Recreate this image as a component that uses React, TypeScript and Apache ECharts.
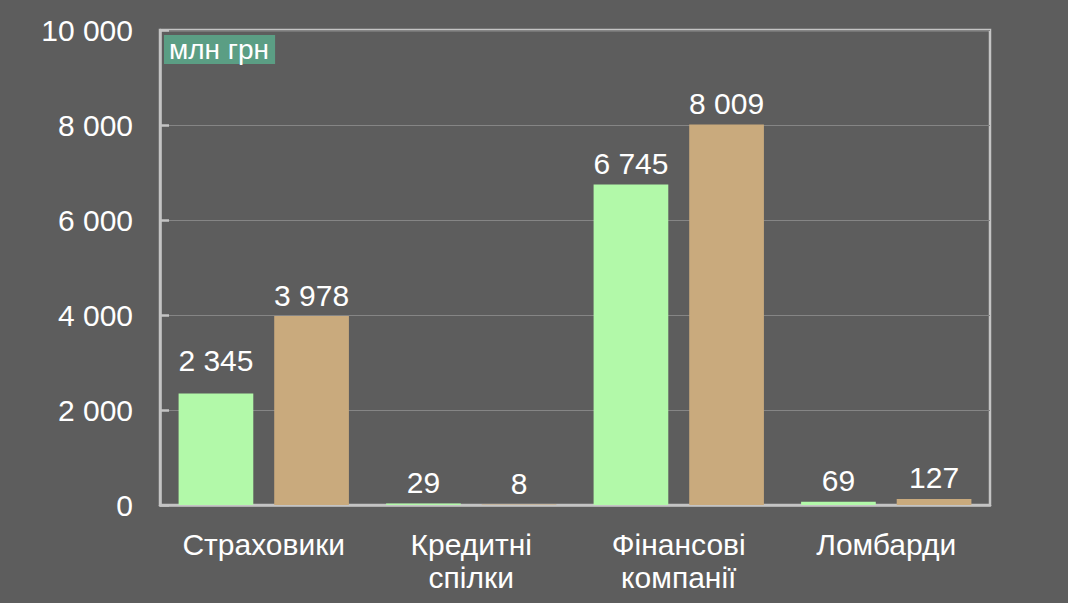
import React, { useEffect, useRef } from "react";
import * as echarts from "echarts";

const categories = ["Страховики", "Кредитні\nспілки", "Фінансові\nкомпанії", "Ломбарди"];
const seriesA = [2345, 29, 6745, 69];
const seriesB = [3978, 8, 8009, 127];
const yTicks = { min: 0, max: 10000, interval: 2000 };
const unitLabel = "млн грн";

const fmt = (v: number) => String(v).replace(/\B(?=(\d{3})+(?!\d))/g, " ");

export default function App() {
  const ref = useRef<HTMLDivElement>(null);
  useEffect(() => {
    if (!ref.current) return;
    const chart = echarts.init(ref.current, null, { renderer: "svg" });
    const font = "Liberation Sans, Arial, sans-serif";
    const labelStyle = {
      show: true,
      position: "top" as const,
      distance: 6,
      color: "#ffffff",
      fontSize: 30,
      fontFamily: font,
      formatter: (p: any) => fmt(p.value),
    };
    const dataA = seriesA.map((v, i) => (i === 0 ? { value: v, label: { distance: 18 } } : v));
    chart.setOption({
      animation: false,
      backgroundColor: "#5d5d5d",
      title: {
        text: unitLabel,
        left: 164,
        top: 35,
        padding: [0, 6, 0, 5],
        backgroundColor: "#5b9e84",
        textStyle: { color: "#ffffff", fontSize: 28, fontWeight: "normal", fontFamily: font, lineHeight: 29 },
      },
      grid: { left: 160, right: 78, top: 30, bottom: 98, show: true, borderColor: "#c4c4c4", borderWidth: 2.5 },
      xAxis: {
        type: "category",
        data: categories,
        axisLine: { show: true, lineStyle: { color: "#c4c4c4", width: 2.5 } },
        axisTick: { show: false },
        axisLabel: { color: "#ffffff", fontSize: 30, fontFamily: font, margin: 23, lineHeight: 33, interval: 0 },
      },
      yAxis: {
        type: "value",
        min: yTicks.min,
        max: yTicks.max,
        interval: yTicks.interval,
        axisLine: { show: true, lineStyle: { color: "#c4c4c4", width: 2.5 } },
        axisTick: { show: true, inside: true, length: 9, lineStyle: { color: "#c4c4c4", width: 2.5 } },
        splitLine: { show: true, lineStyle: { color: "#858585", width: 1 } },
        axisLabel: { color: "#ffffff", fontSize: 30, fontFamily: font, margin: 27, formatter: (v: number) => fmt(v) },
      },
      series: [
        {
          type: "bar",
          data: dataA,
          barWidth: "36%",
          barGap: "28%",
          itemStyle: { color: "#b2f9a9" },
          label: labelStyle,
        },
        {
          type: "bar",
          data: seriesB,
          barWidth: "36%",
          itemStyle: { color: "#c9aa7d" },
          label: labelStyle,
        },
      ],
    });
    return () => chart.dispose();
  }, []);
  return <div ref={ref} style={{ width: 1068, height: 603, position: "fixed", left: 0, top: 0 }} />;
}
